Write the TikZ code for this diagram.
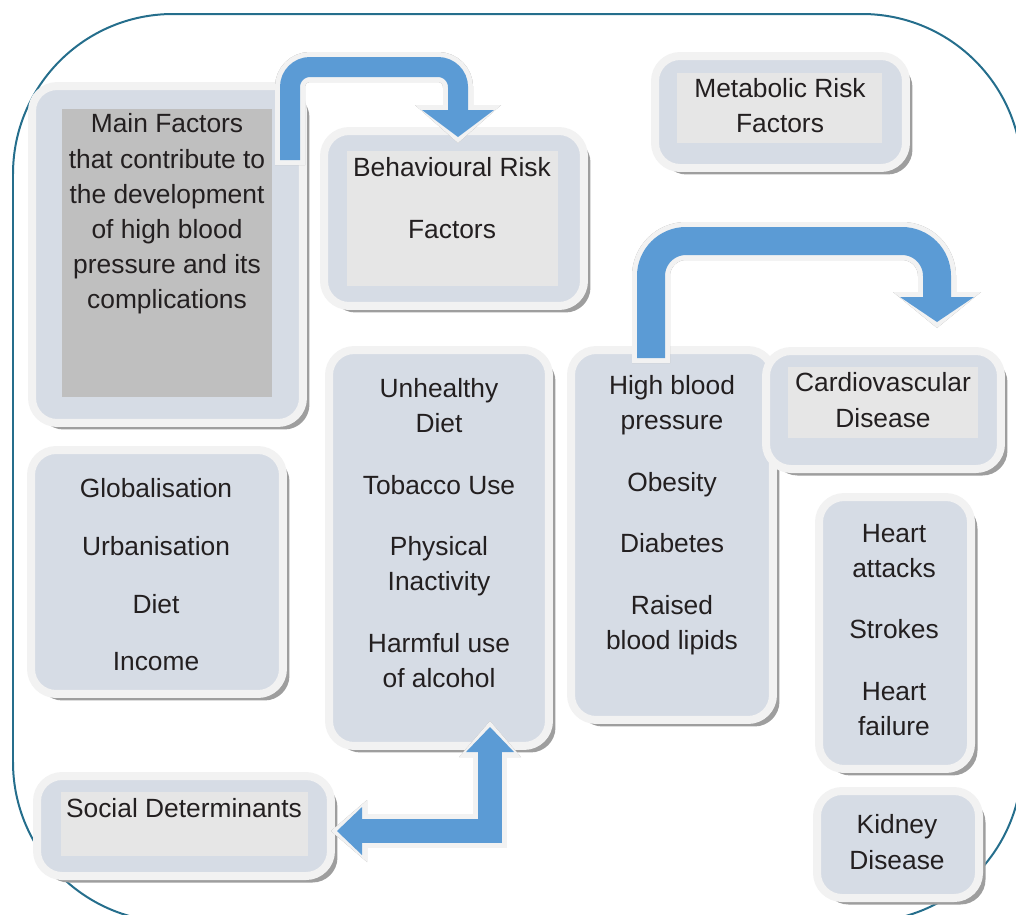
\documentclass[tikz,border=0pt]{standalone}
\usepackage{fontspec}
\setmainfont{Liberation Sans}
\usepackage{xcolor}
\usetikzlibrary{arrows.meta,shadows}

\definecolor{rimgray}{HTML}{F2F2F2}
\definecolor{boxfill}{HTML}{D6DCE5}
\definecolor{innerlight}{HTML}{E6E6E6}
\definecolor{innerdark}{HTML}{BFBFBF}
\definecolor{arrowblue}{HTML}{5B9BD5}
\definecolor{frameteal}{HTML}{256E8C}
\definecolor{textblack}{HTML}{231F20}

\tikzset{
  box/.style={draw=rimgray, line width=0.16cm, fill=boxfill, rounded corners=0.5cm, inner sep=0pt,
    drop shadow={shadow xshift=0.13cm, shadow yshift=-0.13cm, fill=black!38, opacity=1}},
  innerrect/.style={fill=innerlight, inner sep=0pt},
  txt/.style={align=center, text=textblack, font=\fontsize{15}{20}\selectfont, inner sep=0pt},
  arrowshade/.style={draw=black!38, xshift=0.06cm, yshift=-0.06cm},
  arrowrim/.style={draw=rimgray},
  arrowbody/.style={draw=arrowblue}
}

\begin{document}
\begin{tikzpicture}[x=0.02cm, y=-0.02cm]
\useasboundingbox (0,0) rectangle (1016,914);
\clip (0,0) rectangle (1016,914);

% outer frame
\draw[frameteal, line width=0.04cm, rounded corners=3.2cm] (13,14) rectangle (1022,922);

% boxes
\node[box, minimum width=5.42cm, minimum height=6.74cm] (1) at (167.5,254.5) {};
\node[box, minimum width=5.2cm, minimum height=3.5cm] (2) at (454,218.5) {};
\node[box, minimum width=5.02cm, minimum height=2.24cm] (3) at (780.5,112) {};
\node[box, minimum width=5.04cm, minimum height=4.88cm] (4) at (157,572) {};
\node[box, minimum width=4.4cm, minimum height=7.92cm] (5) at (439,548) {};
\node[box, minimum width=4.04cm, minimum height=7.4cm] (6) at (672,535) {};
\node[box, minimum width=4.7cm, minimum height=2.36cm] (7) at (883.5,410) {};
\node[box, minimum width=3.04cm, minimum height=5.44cm] (8) at (895,633) {};
\node[box, minimum width=3.24cm, minimum height=2.14cm] (9) at (898,844.5) {};
\node[box, minimum width=5.88cm, minimum height=2.0cm] (10) at (184,826) {};

% inner panels
\node[innerrect, fill=innerdark, minimum width=4.2cm, minimum height=5.76cm] (r1) at (167,253) {};
\node[innerrect, minimum width=4.22cm, minimum height=2.7cm] (r2) at (452.5,218.5) {};
\node[innerrect, minimum width=4.1cm, minimum height=1.4cm] (r3) at (779.5,108) {};
\node[innerrect, minimum width=3.8cm, minimum height=1.42cm] (r7) at (883,402.5) {};
\node[innerrect, minimum width=4.94cm, minimum height=1.28cm] (r10) at (184.5,824) {};

% texts
\node[txt] (t1) at (167,214) {Main Factors\\that contribute to\\the development\\of high blood\\pressure and its\\complications};
\node[txt] (t2) at (452,198) {Behavioural Risk\\[15pt]Factors};
\node[txt] (t3) at (780,106) {Metabolic Risk\\Factors};
\node[txt] (t4) at (156,575) {Globalisation\\[12.8pt]Urbanisation\\[12.8pt]Diet\\[12.8pt]Income};
\node[txt] (t5) at (439,533) {Unhealthy\\Diet\\[15pt]Tobacco Use\\[15pt]Physical\\Inactivity\\[15pt]Harmful use\\of alcohol};
\node[txt] (t6) at (672,515) {High blood\\pressure\\[15pt]Obesity\\[15pt]Diabetes\\[15pt]Raised\\blood lipids};
\node[txt] (t7) at (883,400) {Cardiovascular\\Disease};
\node[txt] (t8) at (894,630) {Heart\\attacks\\[15pt]Strokes\\[15pt]Heart\\failure};
\node[txt] (t9) at (897,842) {Kidney\\Disease};
\node[txt] (t10) at (184,808) {Social Determinants};

% arrow from main factors to behavioural risk
\coordinate (a1) at (290,160);
\coordinate (a1c1) at (290,67);
\coordinate (a1c2) at (458,67);
\coordinate (a1t) at (458,137);
\draw[arrowshade, line width=0.6cm, rounded corners=0.4cm, shorten >=-0.12cm, shorten <=-0.1cm,
  -{Triangle[width=1.72cm,length=0.76cm,line width=0pt]}] (a1) -- (a1c1) -- (a1c2) -- (a1t);
\draw[arrowrim, line width=0.6cm, rounded corners=0.4cm, shorten >=-0.12cm, shorten <=-0.1cm,
  -{Triangle[width=1.72cm,length=0.76cm,line width=0pt]}] (a1) -- (a1c1) -- (a1c2) -- (a1t);
\draw[arrowbody, line width=0.4cm, rounded corners=0.4cm,
  -{Triangle[width=1.44cm,length=0.54cm,line width=0pt]}] (a1) -- (a1c1) -- (a1c2) -- (a1t);

% arrow from high blood pressure to cardiovascular disease
\coordinate (a2) at (651,358);
\coordinate (a2c1) at (651,241);
\coordinate (a2c2) at (937,241);
\coordinate (a2t) at (937,322);
\draw[arrowshade, line width=0.76cm, rounded corners=0.7cm, shorten >=-0.12cm, shorten <=-0.1cm,
  -{Triangle[width=1.76cm,length=0.72cm,line width=0pt]}] (a2) -- (a2c1) -- (a2c2) -- (a2t);
\draw[arrowrim, line width=0.76cm, rounded corners=0.7cm, shorten >=-0.12cm, shorten <=-0.1cm,
  -{Triangle[width=1.76cm,length=0.72cm,line width=0pt]}] (a2) -- (a2c1) -- (a2c2) -- (a2t);
\draw[arrowbody, line width=0.56cm, rounded corners=0.7cm,
  -{Triangle[width=1.48cm,length=0.5cm,line width=0pt]}] (a2) -- (a2c1) -- (a2c2) -- (a2t);

% two way arrow between behavioural risk and social determinants
\coordinate (a3u) at (490,727);
\coordinate (a3l) at (337,831);
\draw[arrowshade, line width=0.68cm, shorten >=-0.12cm, shorten <=-0.12cm,
  {Triangle[width=1.24cm,length=0.72cm,line width=0pt]}-{Triangle[width=1.24cm,length=0.72cm,line width=0pt]}]
  (a3u) |- (a3l);
\draw[arrowrim, line width=0.68cm, shorten >=-0.12cm, shorten <=-0.12cm,
  {Triangle[width=1.24cm,length=0.72cm,line width=0pt]}-{Triangle[width=1.24cm,length=0.72cm,line width=0pt]}]
  (a3u) |- (a3l);
\draw[arrowbody, line width=0.48cm,
  {Triangle[width=0.96cm,length=0.5cm,line width=0pt]}-{Triangle[width=0.96cm,length=0.5cm,line width=0pt]}]
  (a3u) |- (a3l);
\end{tikzpicture}
\end{document}
